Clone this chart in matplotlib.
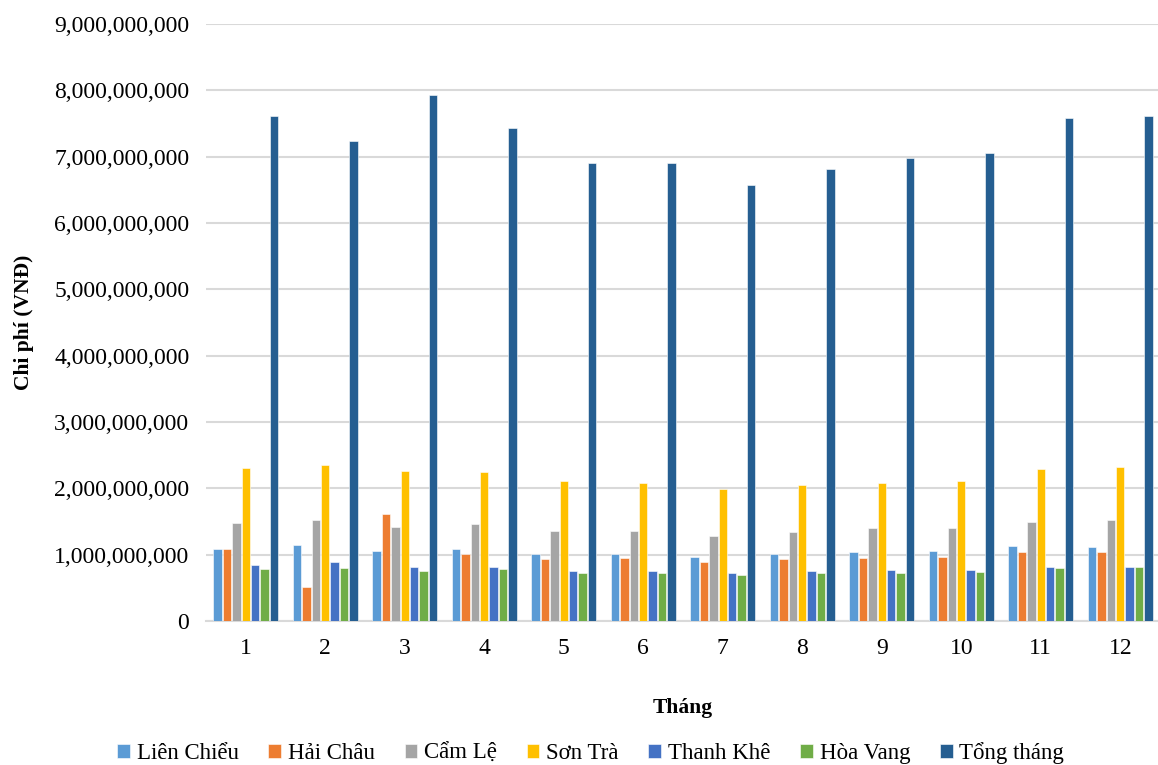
import matplotlib.pyplot as plt
import numpy as np
from matplotlib.ticker import FuncFormatter

plt.rcParams["font.family"] = ["Liberation Serif", "DejaVu Serif"]

thang = [str(i) for i in range(1, 13)]

# đơn vị: tỷ đồng
lien_chieu = [1.09, 1.14, 1.055, 1.085, 1.005, 1.01, 0.965, 1.005, 1.035, 1.055, 1.13, 1.11]
hai_chau = [1.09, 0.51, 1.61, 1.01, 0.94, 0.95, 0.895, 0.93, 0.955, 0.97, 1.04, 1.035]
cam_le = [1.47, 1.52, 1.42, 1.46, 1.35, 1.357, 1.28, 1.34, 1.40, 1.40, 1.49, 1.52]
son_tra = [2.31, 2.35, 2.26, 2.25, 2.11, 2.08, 1.985, 2.055, 2.08, 2.11, 2.29, 2.32]
thanh_khe = [0.845, 0.885, 0.81, 0.82, 0.76, 0.76, 0.72, 0.754, 0.77, 0.77, 0.82, 0.81]
hoa_vang = [0.78, 0.80, 0.75, 0.78, 0.72, 0.73, 0.69, 0.73, 0.73, 0.74, 0.80, 0.81]
tong_thang = [7.61, 7.24, 7.93, 7.43, 6.91, 6.91, 6.57, 6.82, 6.98, 7.05, 7.59, 7.62]

ten = ["Liên Chiểu", "Hải Châu", "Cẩm Lệ", "Sơn Trà", "Thanh Khê", "Hòa Vang", "Tổng tháng"]
mau = ["#5B9BD5", "#ED7D31", "#A5A5A5", "#FFC000", "#4472C4", "#70AD47", "#255E91"]
chuoi = [lien_chieu, hai_chau, cam_le, son_tra, thanh_khe, hoa_vang, tong_thang]

fig = plt.figure(figsize=(11.58, 7.65), dpi=100)
ax = fig.add_axes([206 / 1158, 1 - 621 / 765, 954 / 1158, 597 / 765])

x = np.arange(len(thang))
buoc = 0.118
rong = 0.105
for i, (vals, t, c) in enumerate(zip(chuoi, ten, mau)):
    pos = x + (i - 3) * buoc
    ax.bar(pos, np.array(vals) * 1e9, width=rong, color=c, label=t,
           edgecolor="white", linewidth=0.4, zorder=3)

ax.set_xlim(-0.5, 11.5)
ax.set_ylim(0, 9e9)
ax.set_yticks(np.arange(0, 9.01e9, 1e9))
ax.yaxis.set_major_formatter(FuncFormatter(lambda v, p: f"{int(round(v)):,}"))
ax.set_xticks(x)
ax.set_xticklabels(thang)
ax.tick_params(axis="both", length=0, labelsize=17, colors="black")
ax.tick_params(axis="x", pad=12)
ax.tick_params(axis="y", pad=12)

ax.grid(axis="y", color="#D9D9D9", linewidth=1.5, zorder=0)
for s in ["top", "right", "left"]:
    ax.spines[s].set_visible(False)
ax.spines["bottom"].set_color("#D9D9D9")
ax.spines["bottom"].set_linewidth(1.5)

ax.set_ylabel("Chi phí (VNĐ)", fontsize=15.5, fontweight="bold")
ax.yaxis.set_label_coords(-0.18, 0.5)
ax.set_xlabel("Tháng", fontsize=15.5, fontweight="bold", labelpad=28)

fig.legend(loc="lower center", bbox_to_anchor=(0.51, -0.026), ncol=7, frameon=False,
           fontsize=16.5, handlelength=0.55, handleheight=0.55, handletextpad=0.3,
           columnspacing=1.3)

fig.savefig("out.png", dpi=100)
